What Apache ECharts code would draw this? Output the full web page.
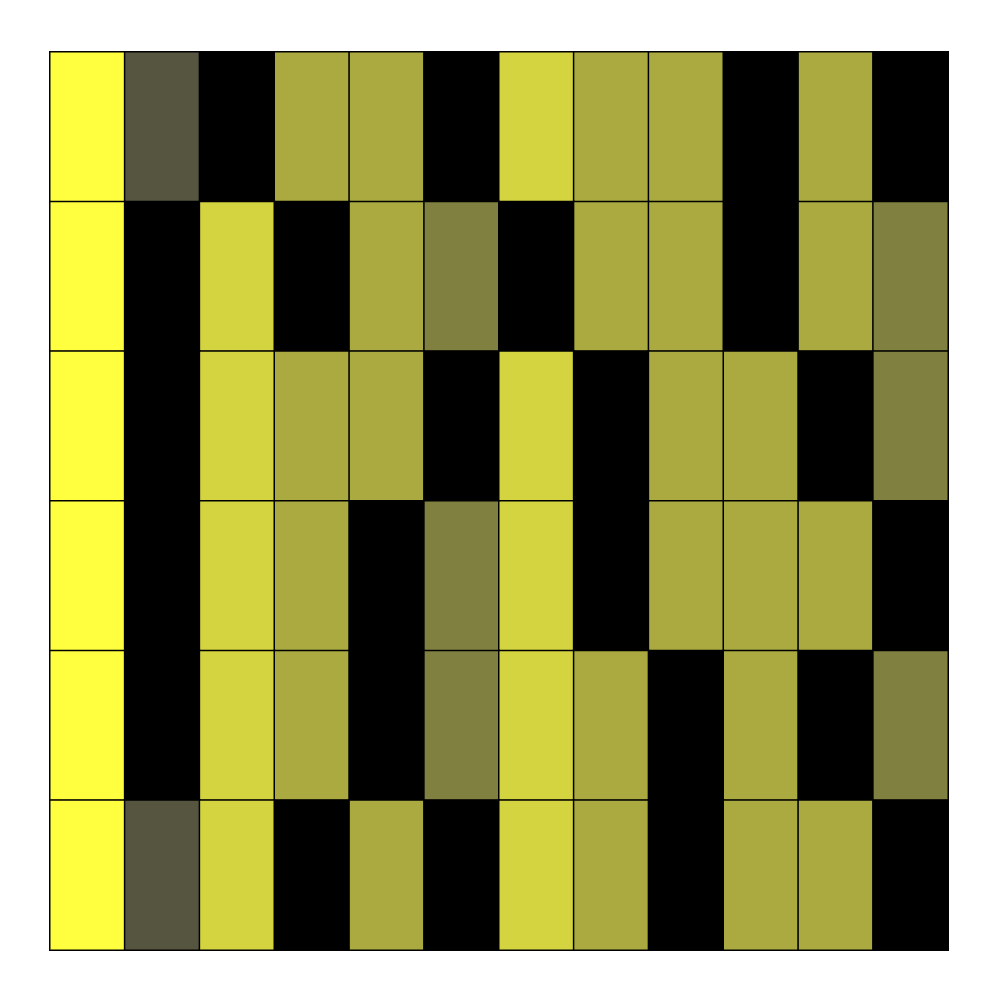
<!DOCTYPE html>
<html>
<head>
<meta charset="utf-8">
<script src="https://cdn.jsdelivr.net/npm/echarts@6/dist/echarts.min.js"></script>
<style>
  html, body { margin: 0; padding: 0; background: #fff; }
  #chart { width: 1000px; height: 1000px; }
</style>
</head>
<body>
<div id="chart"></div>
<script>
// columns and rows (top row first)
const cols = ['0', '1', '2', '3', '4', '5', '6', '7', '8', '9', '10', '11']
const rows = ['r1', 'r2', 'r3', 'r4', 'r5', 'r6']

// level per cell, 0 = black ... 5 = bright yellow
const row1 = [5, 1, 0, 3, 3, 0, 4, 3, 3, 0, 3, 0]
const row2 = [5, 0, 4, 0, 3, 2, 0, 3, 3, 0, 3, 2]
const row3 = [5, 0, 4, 3, 3, 0, 4, 0, 3, 3, 0, 2]
const row4 = [5, 0, 4, 3, 0, 2, 4, 0, 3, 3, 3, 0]
const row5 = [5, 0, 4, 3, 0, 2, 4, 3, 0, 3, 0, 2]
const row6 = [5, 1, 4, 0, 3, 0, 4, 3, 0, 3, 3, 0]
const levelColors = ['#000000', '#555540', '#808040', '#aaaa40', '#d4d440', '#ffff40']

const allRows = [row1, row2, row3, row4, row5, row6]
const data = []
allRows.forEach((r, yi) => {
  r.forEach((v, xi) => data.push([xi, yi, v]))
})

const chart = echarts.init(document.getElementById('chart'))
chart.setOption({
  animation: false,
  grid: { left: 50, right: 52, top: 52, bottom: 50 },
  xAxis: {
    type: 'category',
    data: cols,
    show: false
  },
  yAxis: {
    type: 'category',
    data: rows,
    inverse: true,
    show: false
  },
  visualMap: {
    show: false,
    type: 'piecewise',
    dimension: 2,
    pieces: levelColors.map((c, i) => ({ value: i, color: c }))
  },
  series: [
    {
      type: 'heatmap',
      data: data,
      itemStyle: {
        borderColor: '#000',
        borderWidth: 1.5
      }
    }
  ]
})
</script>
</body>
</html>
